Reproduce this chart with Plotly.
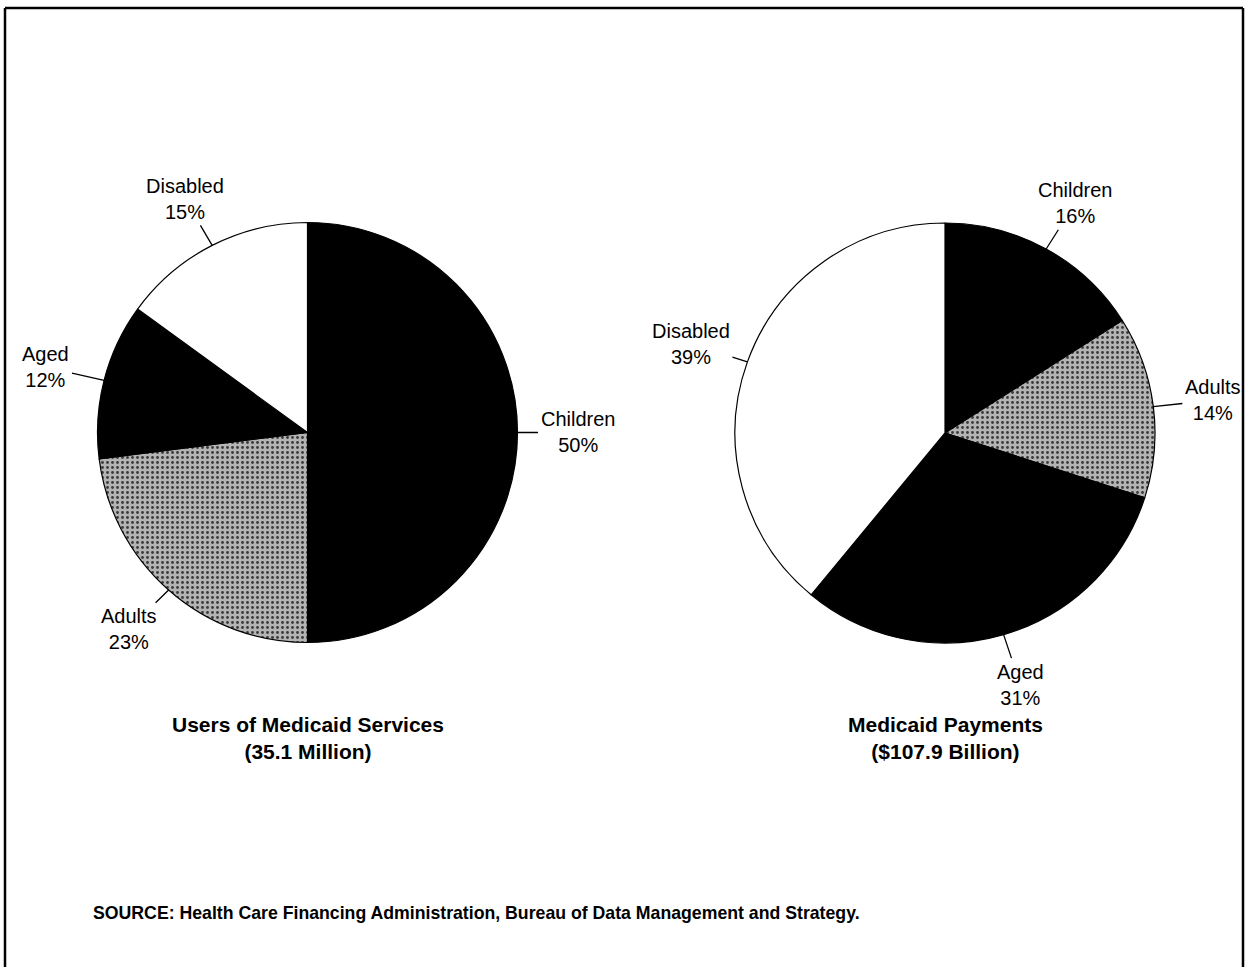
import math
import plotly.graph_objects as go

# ---- data ----
categories_users = ["Children", "Adults", "Aged", "Disabled"]
users_pct = [50, 23, 12, 15]
categories_pay = ["Children", "Adults", "Aged", "Disabled"]
pay_pct = [16, 14, 31, 39]
title_users = ["Users of Medicaid Services", "(35.1 Million)"]
title_pay = ["Medicaid Payments", "($107.9 Billion)"]
source_text = "SOURCE: Health Care Financing Administration, Bureau of Data Management and Strategy."

# ---- layout / style ----
W, H = 1247, 967
R = 210
centers = [(307.5, 432.5), (945.0, 433.0)]
slice_colors = ["#000000", "#b4b4b4", "#000000", "#ffffff"]
FONT = "Liberation Sans, Arial, sans-serif"


def px2x(x):
    return x / W


def px2y(y):
    return 1 - y / H


fig = go.Figure()


def dom(cx, cy):
    return dict(x=[px2x(cx - R), px2x(cx + R)], y=[px2y(cy + R), px2y(cy - R)])


for (cx, cy), labs, vals in [(centers[0], categories_users, users_pct),
                             (centers[1], categories_pay, pay_pct)]:
    fig.add_trace(go.Pie(
        labels=labs, values=vals, sort=False, direction="clockwise", rotation=0,
        domain=dom(cx, cy), textinfo="none", hoverinfo="label+percent",
        showlegend=False,
        marker=dict(colors=slice_colors, line=dict(color="#000000", width=1.2),
                    pattern=dict(shape=["", ".", "", ""], fgcolor="#3a3a3a",
                                 bgcolor=slice_colors, size=5, solidity=0.25)),
    ))

    # outside labels with leader lines, positioned from the data angles
    total = sum(vals)
    cum = 0
    for lab, v in zip(labs, vals):
        mid = (cum + v / 2) / total * 2 * math.pi
        cum += v
        sx, sy = math.sin(mid), -math.cos(mid)
        px, py = cx + R * sx, cy + R * sy
        ox = sx * 60
        oy = sy * 52
        fig.add_annotation(
            x=px2x(px), y=px2y(py), xref="paper", yref="paper",
            text=f"{lab}<br>{v}%", showarrow=True, arrowhead=0, arrowwidth=1.3,
            arrowcolor="#000", ax=ox, ay=oy, startstandoff=1,
            font=dict(family=FONT, size=20, color="#000"), align="center",
        )

# titles under the pies
for (cx, cy), t in [(centers[0], title_users), (centers[1], title_pay)]:
    fig.add_annotation(
        x=px2x(cx), y=px2y(738), xref="paper", yref="paper", showarrow=False,
        xanchor="center", yanchor="middle",
        text=f"<b>{t[0]}</b><br><b>{t[1]}</b>",
        font=dict(family=FONT, size=21, color="#000"), align="center",
    )

fig.add_annotation(
    x=px2x(91), y=px2y(913), xref="paper", yref="paper", showarrow=False,
    xanchor="left", yanchor="middle", text=f"<b>{source_text}</b>",
    font=dict(family=FONT, size=17.7, color="#000"),
)

# frame
frame = dict(type="line", xref="paper", yref="paper", line=dict(color="#000", width=2.5))
fig.add_shape(**frame, x0=px2x(5), x1=px2x(1243), y0=px2y(8), y1=px2y(8))
fig.add_shape(**frame, x0=px2x(5), x1=px2x(5), y0=px2y(8), y1=0)
fig.add_shape(**frame, x0=px2x(1243), x1=px2x(1243), y0=px2y(8), y1=0)

fig.update_layout(
    width=W, height=H, margin=dict(l=0, r=0, t=0, b=0),
    paper_bgcolor="#ffffff", plot_bgcolor="#ffffff",
    font=dict(family=FONT, color="#000"),
)

fig.write_html("out.html", config={"displayModeBar": False},
               post_script="document.body.style.margin='0';")
